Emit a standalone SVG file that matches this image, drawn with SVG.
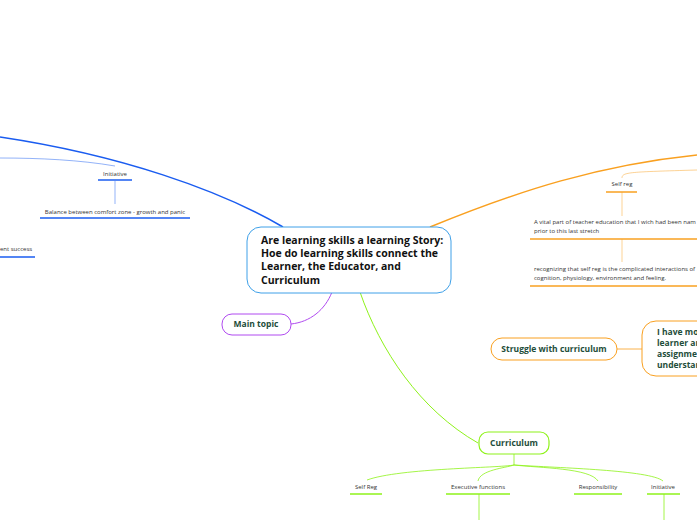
<svg xmlns="http://www.w3.org/2000/svg" width="697" height="520" viewBox="0 0 697 520">
<style>
.t{font-family:"Open Sans","Liberation Sans",sans-serif;font-size:6px;fill:#333}
.b{font-family:"Open Sans","Liberation Sans",sans-serif;font-weight:bold;fill:#1e4d3a}
.bl{fill:none;stroke:#1a5cf0}
.or{fill:none;stroke:#f9a020}
.gr{fill:none;stroke:#8ef21a}
</style>
<rect width="697" height="520" fill="#fff"/>
<g id="connectors">
<path class="bl" stroke-width="1.5" d="M283 227 C220 190 120 155 0 137"/>
<path class="bl" stroke-width="0.8" opacity="0.6" d="M115 166 C80 160 40 158 0 158"/>
<line class="bl" stroke-width="0.8" opacity="0.6" x1="115" y1="181" x2="115" y2="204"/>
<path class="or" stroke-width="1.5" d="M430 227 C520 190 600 165 697 155"/>
<path class="or" stroke-width="0.8" opacity="0.6" d="M622 178 C622 172 630 172 697 170"/>
<line class="or" stroke-width="0.8" opacity="0.6" x1="622" y1="192" x2="622" y2="216"/>
<line class="or" stroke-width="0.8" opacity="0.6" x1="622" y1="239" x2="622" y2="262"/>
<line class="or" stroke-width="0.8" x1="617" y1="349" x2="642" y2="349"/>
<path fill="none" stroke="#b04af0" stroke-width="1" d="M332 292 C325 310 310 322 291 324"/>
<path class="gr" stroke-width="1" d="M360 292 C380 350 420 410 478 443"/>
<path class="gr" stroke-width="0.8" d="M514 454 V465 C500 468 400 468 367 480 M514 465 C505 468 480 470 478 481 M514 465 C540 468 590 468 598 481 M514 465 C560 468 650 470 663 481"/>
<line class="gr" stroke-width="0.8" x1="479" y1="494" x2="479" y2="520"/>
<line class="gr" stroke-width="0.8" x1="664" y1="494" x2="664" y2="520"/>
</g>
<g id="main"><rect x="247" y="227" width="204" height="66" rx="14" fill="#fff" stroke="#3ea0e8" stroke-width="1"/>
<text class="b" font-size="10.5" fill="#111" style="fill:#111"><tspan x="261" y="244">Are learning skills a learning Story:</tspan><tspan x="261" y="257">Hoe do learning skills connect the</tspan><tspan x="261" y="270">Learner, the Educator, and</tspan><tspan x="261" y="284">Curriculum</tspan></text></g>
<g id="initiative"><text class="t" x="115" y="176" text-anchor="middle" font-size="5.5">Initiative</text><line class="bl" stroke-width="1.5" x1="98" y1="180" x2="132" y2="180"/></g>
<g id="balance"><text class="t" x="115" y="214" text-anchor="middle">Balance between comfort zone - growth and panic</text><line class="bl" stroke-width="1.5" x1="40" y1="218" x2="190" y2="218"/></g>
<g id="success"><text class="t" x="0" y="251">ent success</text><line class="bl" stroke-width="1.5" x1="0" y1="257" x2="35" y2="257"/></g>
<g id="selfreg"><text class="t" x="622" y="186" text-anchor="middle" font-size="5.5">Self reg</text><line class="or" stroke-width="1.5" x1="606" y1="192" x2="637" y2="192"/></g>
<g id="vital"><text class="t" x="534" y="224">A vital part of teacher education that I wich had been nam</text><text class="t" x="534" y="233">prior to this last stretch</text><line class="or" stroke-width="1.5" x1="530" y1="239" x2="697" y2="239"/></g>
<g id="recog"><text class="t" x="534" y="271">recognizing that self reg is the complicated interactions of</text><text class="t" x="534" y="280">cognition, physiology, environment and feeling.</text><line class="or" stroke-width="1.5" x1="530" y1="286" x2="697" y2="286"/></g>
<g id="struggle"><rect x="491" y="338" width="126" height="22" rx="11" fill="#fff" stroke="#f9a020"/><text class="b" font-size="8.5" x="554" y="352" text-anchor="middle">Struggle with curriculum</text></g>
<g id="ihave"><rect x="642" y="321" width="80" height="55" rx="14" fill="#fff" stroke="#f9a020"/><text class="b" font-size="8.5"><tspan x="657" y="335">I have mo</tspan><tspan x="657" y="346">learner an</tspan><tspan x="657" y="357">assignmen</tspan><tspan x="657" y="368">understan</tspan></text></g>
<g id="maintopic"><rect x="222" y="314" width="69" height="21" rx="10" fill="#fff" stroke="#b04af0"/><text class="b" font-size="8.5" x="256" y="327" text-anchor="middle">Main topic</text></g>
<g id="curriculum"><rect x="479" y="432" width="70" height="22" rx="9" fill="#fff" stroke="#8ef21a" stroke-width="1.2"/><text class="b" font-size="8.5" x="514" y="446" text-anchor="middle">Curriculum</text></g>
<g id="c1"><text class="t" x="366" y="489" text-anchor="middle" font-size="5.5">Self Reg</text><line class="gr" stroke-width="1.5" x1="350" y1="494" x2="382" y2="494"/></g>
<g id="c2"><text class="t" x="478" y="489" text-anchor="middle" font-size="5.5">Executive functions</text><line class="gr" stroke-width="1.5" x1="446" y1="494" x2="510" y2="494"/></g>
<g id="c3"><text class="t" x="598" y="489" text-anchor="middle" font-size="5.5">Responsibility</text><line class="gr" stroke-width="1.5" x1="574" y1="494" x2="622" y2="494"/></g>
<g id="c4"><text class="t" x="663" y="489" text-anchor="middle" font-size="5.5">Initiative</text><line class="gr" stroke-width="1.5" x1="647" y1="494" x2="680" y2="494"/></g>
</svg>
